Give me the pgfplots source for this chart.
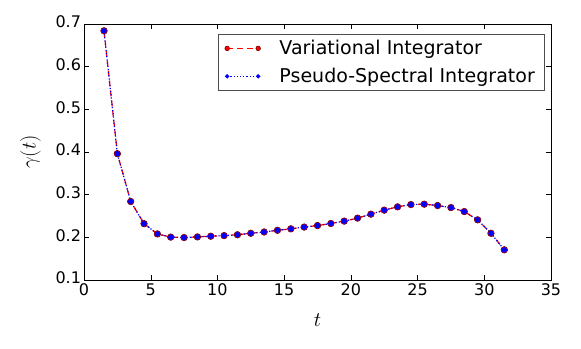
\documentclass[border=0pt]{standalone}
\usepackage{pgfplots}
\pgfplotsset{compat=1.18}
\usepackage{fontspec}
\setmainfont{DejaVu Sans}
\usetikzlibrary{calc}
\pgfplotstableread{
t g
1.5 0.684
2.5 0.396
3.5 0.284
4.5 0.232
5.5 0.208
6.5 0.2005
7.5 0.1995
8.5 0.201
9.5 0.2026
10.5 0.204
11.5 0.206
12.5 0.2095
13.5 0.2125
14.5 0.2165
15.5 0.2199
16.5 0.224
17.5 0.2276
18.5 0.2324
19.5 0.238
20.5 0.245
21.5 0.2543
22.5 0.2637
23.5 0.2714
24.5 0.2768
25.5 0.2777
26.5 0.2745
27.5 0.2698
28.5 0.2604
29.5 0.241
30.5 0.2095
31.5 0.1707
}\datatable
\begin{document}
\begin{tikzpicture}
\begin{axis}[
  name=ax,
  at={(0,0)}, anchor=south west,
  scale only axis,
  width=467bp, height=256bp,
  xmin=0, xmax=35, ymin=0.1, ymax=0.7,
  xtick={0,5,...,35},
  ytick={0.1,0.2,...,0.7},
  yticklabel style={xshift=0.5bp, yshift=2bp, /pgf/number format/.cd, fixed, fixed zerofill, precision=1},
  /pgf/number format/assume math mode=true,
  ticklabel style={font=\fontsize{16bp}{19bp}\selectfont},
  xticklabel style={yshift=0bp},
  tick style={black, thin},
  major tick length=5bp,
  axis line style={black, thin},
  xlabel={$t$}, ylabel={$\gamma(t)$},
  label style={font=\fontsize{21bp}{25bp}\selectfont},
  xlabel style={yshift=-11bp},
  ylabel style={yshift=8bp},
  legend style={at={(0.985,0.96)}, anchor=north east, draw=black!70, thin,
    font=\fontsize{19bp}{23bp}\selectfont, row sep=8bp, inner xsep=7bp, inner ysep=4bp,
    /tikz/every odd column/.append style={column sep=17bp}},
  legend cell align=left,
  legend image code/.code={\draw[#1, every mark/.append style={scale=0.7}] plot coordinates {(0bp,0bp) (31bp,0bp)};},
]
\addplot[red, dash pattern=on 6bp off 4bp, line width=1.2pt, mark=*, mark size=3.3bp,
  mark options={solid, fill=red, draw=black!55!red, line width=0.6pt}] table[x=t,y=g] {\datatable};
\addlegendentry{Variational Integrator}
\addplot[blue, dotted, line width=1.2pt, mark=*, mark size=2.1bp,
  mark options={solid, fill=blue, draw=blue}] table[x=t,y=g] {\datatable};
\addlegendentry{Pseudo-Spectral Integrator}
\end{axis}
\path[use as bounding box] ($(ax.south west)+(-84bp,-69bp)$) rectangle ($(ax.north east)+(30bp,24bp)$);
\end{tikzpicture}
\end{document}
